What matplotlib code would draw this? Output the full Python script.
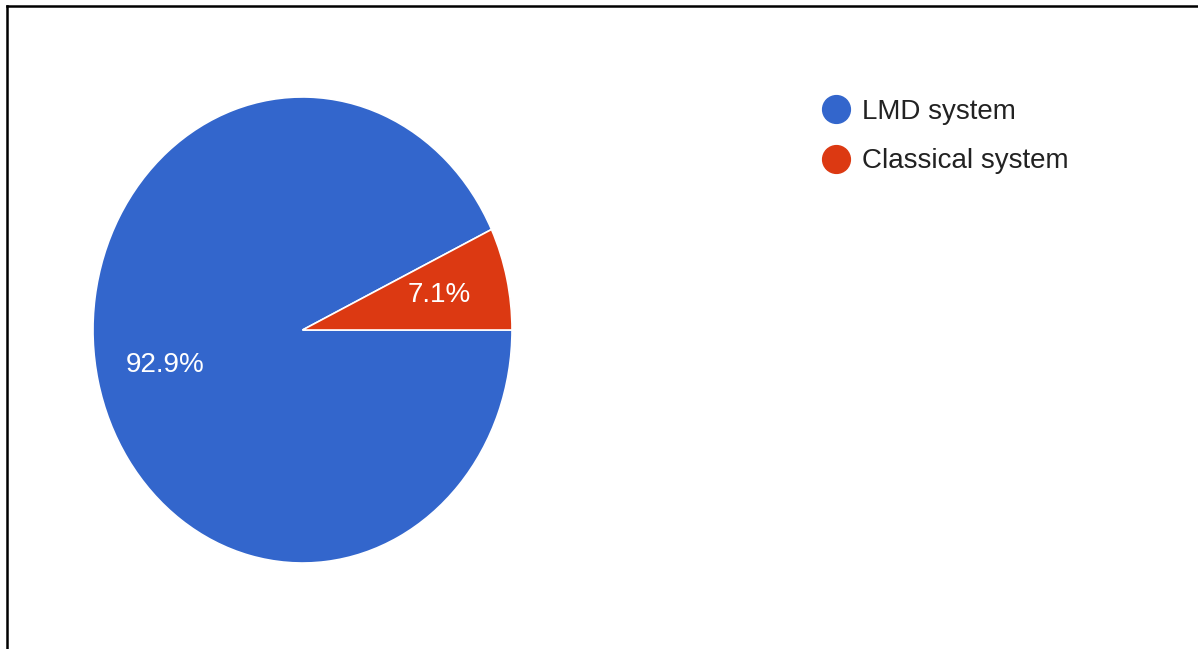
import matplotlib.pyplot as plt
from matplotlib.lines import Line2D

labels = ['LMD system', 'Classical system']
shares = [92.9, 7.1]
colors = ['#3366CC', '#DC3912']

plt.rcParams['font.family'] = ['Liberation Sans', 'DejaVu Sans']

W, H = 1198, 649
fig = plt.figure(figsize=(W / 100, H / 100), dpi=100)

# pie is drawn stretched (taller than wide), like the original
ax = fig.add_axes([93 / W, (H - 563) / H, 419 / W, 466 / H])
wedges, texts, autotexts = ax.pie(
    shares, colors=colors, startangle=shares[1] / 100 * 360,
    autopct='%1.1f%%', pctdistance=0.67,
    wedgeprops=dict(edgecolor='white', linewidth=1.2),
    textprops=dict(color='white', fontsize=20))
ax.set_aspect('auto')
ax.set_xlim(-1, 1)
ax.set_ylim(-1, 1)

handles = [Line2D([], [], marker='o', linestyle='none', markersize=20,
                  markerfacecolor=c, markeredgecolor=c) for c in colors]
fig.legend(handles, labels, loc='upper left',
           bbox_to_anchor=(822 / W, 1 - 99 / H), frameon=False,
           fontsize=20, labelcolor='#222222', handletextpad=0.45,
           labelspacing=0.84, handlelength=1.0, borderaxespad=0,
           borderpad=0)

# frame lines at top and left of the screenshot
fig.add_artist(Line2D([7 / W, 1], [1 - 6 / H, 1 - 6 / H], color='black',
                      linewidth=1.8, transform=fig.transFigure))
fig.add_artist(Line2D([7 / W, 7 / W], [0, 1 - 6 / H], color='black',
                      linewidth=1.8, transform=fig.transFigure))

fig.savefig('out.png', dpi=100)
